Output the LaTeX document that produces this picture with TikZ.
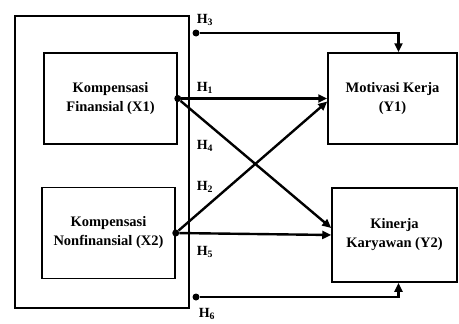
\documentclass[tikz,border=0pt]{standalone}
\usepackage{fontspec}
\setmainfont{Liberation Serif}
\usetikzlibrary{arrows.meta}
\begin{document}
\begin{tikzpicture}[x=1pt,y=-1pt]
    \tikzstyle{box}=[draw,line width=1.5pt,shape=rectangle,align=center,
      font=\bfseries\fontsize{14.5}{19}\selectfont]
    \tikzstyle{dot}=[shape=circle,fill,inner sep=0,minimum size=7pt]
    \tikzstyle{arr}=[line width=2.4pt,-{Triangle[length=9pt,width=8pt]}]
    \tikzstyle{hyp}=[font=\bfseries\fontsize{14}{16}\selectfont]

    \useasboundingbox (0,0) rectangle (459,324);
    \node[box,minimum width=174,minimum height=292](outer) at (102,162){};
    \node[box,minimum width=133,minimum height=91](x1) at (110.5,98.5){Kompensasi\\Finansial (X1)};
    \node[box,minimum width=133,minimum height=91](x2) at (108.5,233){Kompensasi\\Nonfinansial (X2)};
    \node[box,minimum width=129,minimum height=91](y1) at (392.5,98.5){Motivasi Kerja\\(Y1)};
    \node[box,minimum width=125,minimum height=94](y2) at (394.5,235){Kinerja\\Karyawan (Y2)};

    \node[dot](d1) at (x1.east){};
    \node[dot](d2) at (x2.east){};
    \node[dot](d3) at (196,33){};
    \node[dot](d6) at (196,297){};

    \draw [arr] (d1) -- (y1.west);
    \draw [arr] (d2) -- ([yshift=-3pt]y1.west);
    \draw [arr] (d1) -- ([yshift=7pt]y2.west);
    \draw [arr] (d2) -- (y2.west);
    \draw [arr] (d3) -| ([xshift=6pt]y1.north);
    \draw [arr] (d6) -| ([xshift=4pt]y2.south);

    \node[hyp](h3) at (205,20){H\textsubscript{3}};
    \node[hyp](h1) at (205,88){H\textsubscript{1}};
    \node[hyp](h4) at (205,146){H\textsubscript{4}};
    \node[hyp](h2) at (205,187){H\textsubscript{2}};
    \node[hyp](h5) at (205,252){H\textsubscript{5}};
    \node[hyp](h6) at (207,314){H\textsubscript{6}};
  \end{tikzpicture}
\end{document}
